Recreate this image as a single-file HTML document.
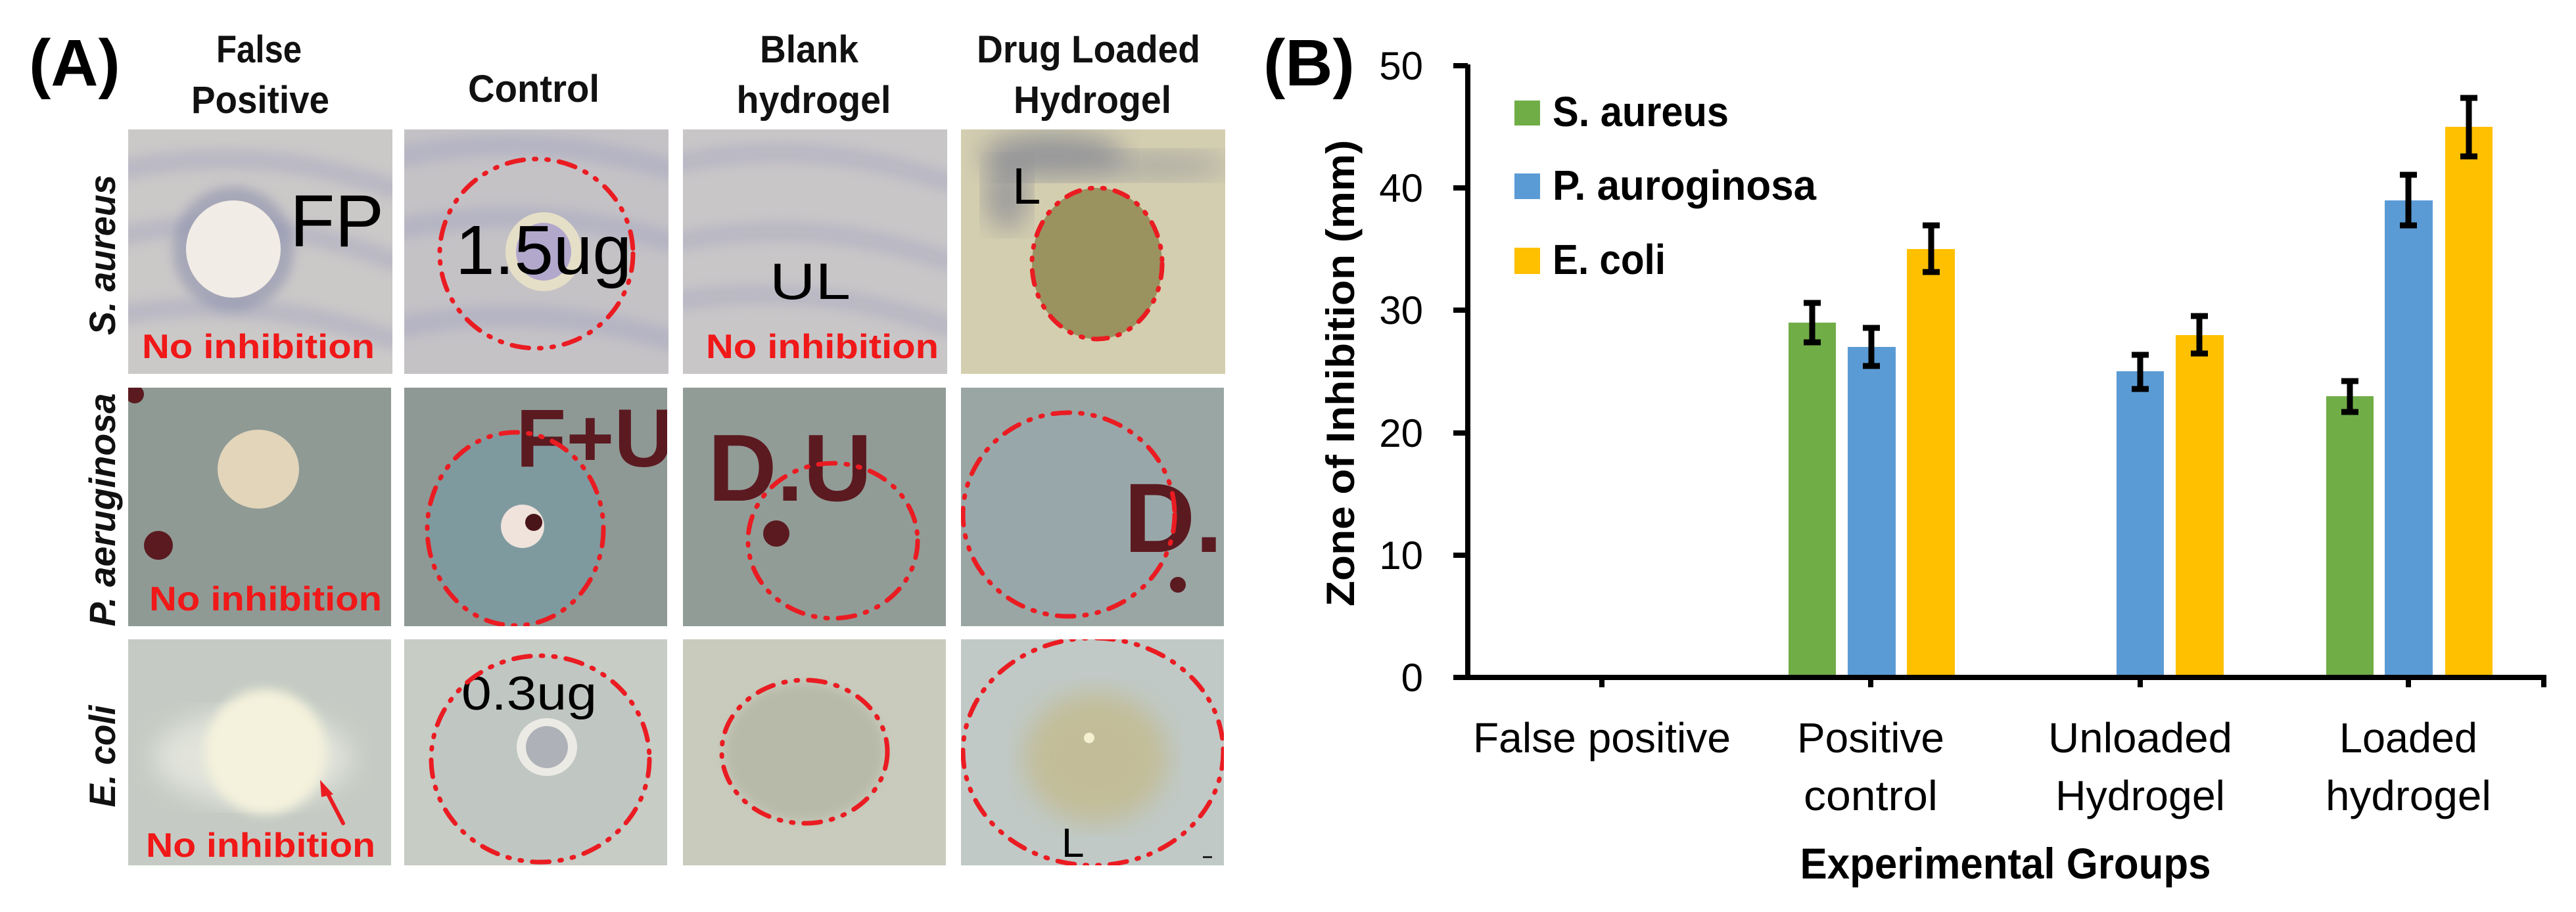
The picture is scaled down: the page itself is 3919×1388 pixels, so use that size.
<!DOCTYPE html>
<html><head><meta charset="utf-8"><style>
html,body{margin:0;padding:0;background:#fff;}
svg{display:block;}
text{font-family:"Liberation Sans",sans-serif;}
</style></head><body>
<svg width="3919" height="1388" viewBox="0 0 3919 1388" xmlns="http://www.w3.org/2000/svg">
<defs>
<filter id="blur8"><feGaussianBlur stdDeviation="8"/></filter>
<filter id="blur20"><feGaussianBlur stdDeviation="20"/></filter>
<clipPath id="c1"><rect width="402" height="372"/></clipPath>
<clipPath id="c2"><rect width="400" height="363"/></clipPath>
<clipPath id="c3"><rect width="400" height="344"/></clipPath>
</defs>
<rect width="3919" height="1388" fill="#fff"/>

<text x="44" y="130" font-size="100" font-weight="bold">(A)</text>
<g font-size="58" font-weight="bold" text-anchor="middle" fill="#111">
<text x="394" y="95" textLength="130" lengthAdjust="spacingAndGlyphs">False</text>
<text x="396" y="172" textLength="210" lengthAdjust="spacingAndGlyphs">Positive</text>
<text x="812" y="155" textLength="200" lengthAdjust="spacingAndGlyphs">Control</text>
<text x="1231" y="95" textLength="150" lengthAdjust="spacingAndGlyphs">Blank</text>
<text x="1238" y="172" textLength="235" lengthAdjust="spacingAndGlyphs">hydrogel</text>
<text x="1656" y="95" textLength="340" lengthAdjust="spacingAndGlyphs">Drug Loaded</text>
<text x="1662" y="172" textLength="240" lengthAdjust="spacingAndGlyphs">Hydrogel</text>
</g>
<g font-size="56" font-weight="bold" font-style="italic" text-anchor="middle" fill="#111">
<text transform="translate(175,388) rotate(-90)" textLength="244" lengthAdjust="spacingAndGlyphs">S. aureus</text>
<text transform="translate(175,776) rotate(-90)" textLength="355" lengthAdjust="spacingAndGlyphs">P. aeruginosa</text>
<text transform="translate(175,1151) rotate(-90)" textLength="155" lengthAdjust="spacingAndGlyphs">E. coli</text>
</g>

<g stroke-linecap="round">
<g transform="translate(195,197)" clip-path="url(#c1)">
<rect width="402" height="372" fill="#cbc8c8"/>
<path d="M0 60 Q200 20 402 90 M0 160 Q200 120 402 200 M0 280 Q200 250 402 320" stroke="#a9a9bf" stroke-width="30" fill="none" opacity="0.5" filter="url(#blur8)"/>
<ellipse cx="160" cy="182" rx="92" ry="95" fill="#8e92ad" opacity="0.6" filter="url(#blur8)"/>
<ellipse cx="160" cy="182" rx="72" ry="74" fill="#f2ece6"/>
<text x="246" y="178" font-size="112">FP</text>
<text x="21" y="348" font-size="52" font-weight="bold" fill="#f01818" textLength="354" lengthAdjust="spacingAndGlyphs">No inhibition</text>
</g>
<g transform="translate(615,197)" clip-path="url(#c1)">
<rect width="402" height="372" fill="#c5c2c6"/>
<path d="M0 40 Q200 0 402 60 M0 150 Q200 110 402 170 M0 300 Q200 260 402 320" stroke="#a6a7c0" stroke-width="34" fill="none" opacity="0.5" filter="url(#blur8)"/>
<ellipse cx="212" cy="186" rx="58" ry="60" fill="#e6dfc8"/>
<ellipse cx="212" cy="186" rx="42" ry="44" fill="#b2a8cc"/>
<ellipse cx="201" cy="189" rx="147" ry="144" fill="none" stroke="#ea1c22" stroke-width="7" stroke-dasharray="26 16 3 16 3 16"/>
<text x="78" y="220" font-size="106" textLength="268" lengthAdjust="spacingAndGlyphs">1.5ug</text>
</g>
<g transform="translate(1039,197)" clip-path="url(#c1)">
<rect width="402" height="372" fill="#c9c6c8"/>
<path d="M0 50 Q200 10 402 80 M0 170 Q200 130 402 200 M0 260 Q200 230 402 300" stroke="#a9aabf" stroke-width="30" fill="none" opacity="0.5" filter="url(#blur8)"/>
<text x="132" y="258" font-size="78" textLength="123" lengthAdjust="spacingAndGlyphs">UL</text>
<text x="35" y="348" font-size="52" font-weight="bold" fill="#f01818" textLength="354" lengthAdjust="spacingAndGlyphs">No inhibition</text>
</g>
<g transform="translate(1462,197)" clip-path="url(#c1)">
<rect width="402" height="372" fill="#d4ceb0"/>
<ellipse cx="140" cy="40" rx="110" ry="35" fill="#7d8090" opacity="0.7" filter="url(#blur20)"/>
<ellipse cx="300" cy="55" rx="110" ry="22" fill="#8a8d9a" opacity="0.5" filter="url(#blur20)"/>
<ellipse cx="70" cy="100" rx="35" ry="55" fill="#7d8090" opacity="0.6" filter="url(#blur20)"/>
<ellipse cx="207" cy="204" rx="99" ry="115" fill="#9a925f"/>
<ellipse cx="207" cy="204" rx="99" ry="115" fill="none" stroke="#ea1c22" stroke-width="7" stroke-dasharray="22 16 3 16 3 16"/>
<text x="78" y="113" font-size="78">L</text>
</g>

<g transform="translate(195,590)" clip-path="url(#c2)">
<rect width="402" height="363" fill="#8f9a95"/>
<ellipse cx="198" cy="124" rx="62" ry="60" fill="#e2d5ba"/>
<circle cx="46" cy="240" r="22" fill="#5a1a20"/>
<circle cx="10" cy="10" r="14" fill="#5a1a20"/>
<text x="32" y="339" font-size="52" font-weight="bold" fill="#f01818" textLength="354" lengthAdjust="spacingAndGlyphs">No inhibition</text>
</g>
<g transform="translate(615,590)" clip-path="url(#c2)">
<rect width="400" height="363" fill="#8e9995"/>
<ellipse cx="169" cy="215" rx="134" ry="147" fill="#7f9a9f"/>
<text x="170" y="120" font-size="125" font-weight="bold" fill="#5b1a20">F+U</text>
<circle cx="180" cy="211" r="33" fill="#efe3dc"/>
<circle cx="197" cy="205" r="13" fill="#4a1518"/>
<ellipse cx="169" cy="215" rx="134" ry="147" fill="none" stroke="#ea1c22" stroke-width="7" stroke-dasharray="26 16 3 16 3 16"/>
</g>
<g transform="translate(1039,590)" clip-path="url(#c2)">
<rect width="400" height="363" fill="#919c97"/>
<text x="38" y="172" font-size="145" font-weight="bold" fill="#5b1a20">D.U</text>
<circle cx="142" cy="222" r="20" fill="#5b1a20"/>
<ellipse cx="228" cy="233" rx="129" ry="118" fill="none" stroke="#ea1c22" stroke-width="7" stroke-dasharray="26 16 3 16 3 16"/>
</g>
<g transform="translate(1462,590)" clip-path="url(#c2)">
<rect width="400" height="363" fill="#9aa6a4"/>
<ellipse cx="164" cy="193" rx="161" ry="155" fill="#98a8aa"/>
<text x="248" y="250" font-size="150" font-weight="bold" fill="#5b1a20">D.U</text>
<circle cx="330" cy="300" r="12" fill="#5b1a20"/>
<ellipse cx="164" cy="193" rx="161" ry="155" fill="none" stroke="#ea1c22" stroke-width="7" stroke-dasharray="26 16 3 16 3 16"/>
</g>

<g transform="translate(195,973)" clip-path="url(#c3)">
<rect width="402" height="344" fill="#c5cbc4"/>
<ellipse cx="190" cy="180" rx="150" ry="70" fill="#e2e4db" filter="url(#blur20)"/>
<ellipse cx="209" cy="171" rx="92" ry="95" fill="#f4f2dc" filter="url(#blur8)"/>
<line x1="327" y1="280" x2="300" y2="228" stroke="#ea1c22" stroke-width="6"/>
<path d="M292 214 L312 236 L294 240 Z" fill="#ea1c22"/>
<text x="27" y="331" font-size="52" font-weight="bold" fill="#f01818" textLength="349" lengthAdjust="spacingAndGlyphs">No inhibition</text>
</g>
<g transform="translate(615,973)" clip-path="url(#c3)">
<rect width="400" height="344" fill="#c7ccc5"/>
<ellipse cx="207" cy="182" rx="166" ry="157" fill="#c0c7c3"/>
<ellipse cx="217" cy="164" rx="46" ry="44" fill="#eceae4"/>
<ellipse cx="217" cy="164" rx="32" ry="32" fill="#aeb2b8"/>
<text x="87" y="107" font-size="72" textLength="206" lengthAdjust="spacingAndGlyphs">0.3ug</text>
<ellipse cx="207" cy="182" rx="166" ry="157" fill="none" stroke="#ea1c22" stroke-width="7" stroke-dasharray="26 16 3 16 3 16"/>
</g>
<g transform="translate(1039,973)" clip-path="url(#c3)">
<rect width="400" height="344" fill="#c9cbbd"/>
<ellipse cx="185" cy="171" rx="122" ry="105" fill="#b8baa9" filter="url(#blur8)"/>
<ellipse cx="185" cy="171" rx="126" ry="109" fill="none" stroke="#ea1c22" stroke-width="7" stroke-dasharray="26 16 3 16 3 16"/>
</g>
<g transform="translate(1462,973)" clip-path="url(#c3)">
<rect width="400" height="344" fill="#c0c9c6"/>
<ellipse cx="205" cy="180" rx="110" ry="100" fill="#c2bd98" filter="url(#blur20)"/>
<circle cx="195" cy="150" r="8" fill="#f4f0d0"/>
<ellipse cx="201" cy="171" rx="198" ry="173" fill="none" stroke="#ea1c22" stroke-width="7" stroke-dasharray="26 16 3 16 3 16"/>
<text x="153" y="331" font-size="62">L</text>
<rect x="368" y="330" width="14" height="3" fill="#222"/>
</g>
</g>

<text x="1922" y="130" font-size="100" font-weight="bold">(B)</text>
<text transform="translate(2060,568) rotate(-90)" font-size="60" font-weight="bold" text-anchor="middle" textLength="710" lengthAdjust="spacingAndGlyphs">Zone of Inhibition (mm)</text>
<g font-size="60" text-anchor="end">
<text x="2165" y="121">50</text>
<text x="2165" y="307">40</text>
<text x="2165" y="493">30</text>
<text x="2165" y="680">20</text>
<text x="2165" y="866">10</text>
<text x="2165" y="1052">0</text>
</g>
<g>
<rect x="2721" y="491" width="72" height="540" fill="#70ad47"/>
<rect x="2811" y="528" width="73" height="503" fill="#5b9bd5"/>
<rect x="2901" y="379" width="73" height="652" fill="#ffc000"/>
<rect x="3220" y="565" width="72" height="466" fill="#5b9bd5"/>
<rect x="3310" y="510" width="73" height="521" fill="#ffc000"/>
<rect x="3539" y="603" width="72" height="428" fill="#70ad47"/>
<rect x="3628" y="305" width="73" height="726" fill="#5b9bd5"/>
<rect x="3720" y="193" width="72" height="838" fill="#ffc000"/>
</g>
<g stroke="#000" stroke-width="9" fill="none">
<path d="M2757 461V521M2744 461H2770M2744 521H2770"/>
<path d="M2847 499V557M2834 499H2860M2834 557H2860"/>
<path d="M2938 343V414M2925 343H2951M2925 414H2951"/>
<path d="M3256 540V592M3243 540H3269M3243 592H3269"/>
<path d="M3346 481V538M3333 481H3359M3333 538H3359"/>
<path d="M3575 580V627M3562 580H3588M3562 627H3588"/>
<path d="M3664 266V343M3651 266H3677M3651 343H3677"/>
<path d="M3756 149V238M3743 149H3769M3743 238H3769"/>
</g>
<g stroke="#000" stroke-width="8" fill="none">
<line x1="2233" y1="98" x2="2233" y2="1035"/>
<line x1="2211" y1="1031" x2="3874" y2="1031"/>
<line x1="2211" y1="100" x2="2233" y2="100"/>
<line x1="2211" y1="286" x2="2233" y2="286"/>
<line x1="2211" y1="472" x2="2233" y2="472"/>
<line x1="2211" y1="659" x2="2233" y2="659"/>
<line x1="2211" y1="845" x2="2233" y2="845"/>
<line x1="2437" y1="1031" x2="2437" y2="1046"/>
<line x1="2846" y1="1031" x2="2846" y2="1046"/>
<line x1="3256" y1="1031" x2="3256" y2="1046"/>
<line x1="3664" y1="1031" x2="3664" y2="1046"/>
<line x1="3870" y1="1031" x2="3870" y2="1046"/>
</g>
<rect x="2304" y="153" width="39" height="38" fill="#70ad47"/>
<rect x="2304" y="264" width="39" height="39" fill="#5b9bd5"/>
<rect x="2304" y="377" width="39" height="40" fill="#ffc000"/>
<g font-size="64" font-weight="bold">
<text x="2362" y="192" textLength="268" lengthAdjust="spacingAndGlyphs">S. aureus</text>
<text x="2362" y="304" textLength="401" lengthAdjust="spacingAndGlyphs">P. auroginosa</text>
<text x="2362" y="417" textLength="172" lengthAdjust="spacingAndGlyphs">E. coli</text>
</g>
<g font-size="64" text-anchor="middle">
<text x="2437" y="1145" textLength="392" lengthAdjust="spacingAndGlyphs">False positive</text>
<text x="2846" y="1145" textLength="224" lengthAdjust="spacingAndGlyphs">Positive</text>
<text x="2846" y="1233" textLength="204" lengthAdjust="spacingAndGlyphs">control</text>
<text x="3256" y="1145" textLength="280" lengthAdjust="spacingAndGlyphs">Unloaded</text>
<text x="3256" y="1233" textLength="258" lengthAdjust="spacingAndGlyphs">Hydrogel</text>
<text x="3664" y="1145" textLength="210" lengthAdjust="spacingAndGlyphs">Loaded</text>
<text x="3664" y="1233" textLength="252" lengthAdjust="spacingAndGlyphs">hydrogel</text>
</g>
<text x="3051" y="1337" font-size="66" font-weight="bold" text-anchor="middle" textLength="625" lengthAdjust="spacingAndGlyphs">Experimental Groups</text>
</svg>
</body></html>
